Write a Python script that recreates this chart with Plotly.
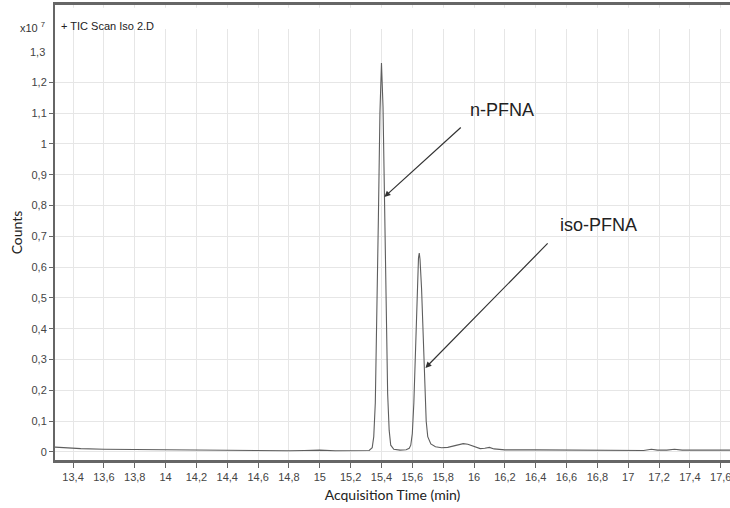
import plotly.graph_objects as go

# Chromatogram (time in min, counts in units of 1e7)
time_min = [13.28, 13.35, 13.45, 13.6, 13.8, 14.0, 14.2, 14.4, 14.6, 14.8, 14.9, 15.0, 15.1, 15.2, 15.28,
            15.32, 15.34, 15.35, 15.36, 15.37, 15.38, 15.39, 15.40, 15.41, 15.42, 15.43, 15.44, 15.45, 15.46,
            15.48, 15.52, 15.56, 15.58, 15.59, 15.60, 15.61, 15.62, 15.63, 15.64, 15.645, 15.65, 15.66,
            15.67, 15.68, 15.69, 15.70, 15.72, 15.75, 15.79, 15.83, 15.87, 15.9, 15.93, 15.96, 16.0,
            16.04, 16.07, 16.1, 16.13, 16.2, 16.4, 16.6, 16.8, 17.0, 17.1, 17.15, 17.19, 17.25, 17.3,
            17.35, 17.5, 17.6, 17.7]
counts_e7 = [0.016, 0.013, 0.011, 0.009, 0.008, 0.007, 0.006, 0.005, 0.004, 0.004, 0.005, 0.006, 0.004, 0.004, 0.004,
             0.005, 0.014, 0.05, 0.16, 0.42, 0.76, 1.10, 1.263, 1.12, 0.78, 0.44, 0.19, 0.07, 0.022,
             0.009, 0.006, 0.007, 0.012, 0.022, 0.06, 0.16, 0.34, 0.53, 0.63, 0.646, 0.625, 0.53,
             0.40, 0.22, 0.10, 0.05, 0.026, 0.017, 0.014, 0.015, 0.02, 0.025, 0.027, 0.025, 0.018,
             0.011, 0.012, 0.015, 0.01, 0.007, 0.007, 0.006, 0.005, 0.005, 0.005, 0.009, 0.006, 0.006, 0.009,
             0.006, 0.005, 0.005, 0.006]

x_ticks = [13.4, 13.6, 13.8, 14.0, 14.2, 14.4, 14.6, 14.8, 15.0, 15.2, 15.4, 15.6, 15.8, 16.0,
           16.2, 16.4, 16.6, 16.8, 17.0, 17.2, 17.4, 17.6]
x_labels = ["13,4", "13,6", "13,8", "14", "14,2", "14,4", "14,6", "14,8", "15", "15,2", "15,4", "15,6",
            "15,8", "16", "16,2", "16,4", "16,6", "16,8", "17", "17,2", "17,4", "17,6"]
y_ticks = [0, 0.1, 0.2, 0.3, 0.4, 0.5, 0.6, 0.7, 0.8, 0.9, 1.0, 1.1, 1.2]
y_labels = ["0", "0,1", "0,2", "0,3", "0,4", "0,5", "0,6", "0,7", "0,8", "0,9", "1", "1,1", "1,2"]

peak_names = ["n-PFNA", "iso-PFNA"]
label_pos = [(16.183, 1.11), (16.805, 0.737)]
arrow_tail = [(15.924, 1.058), (16.487, 0.682)]
arrow_tip = [(15.419, 0.828), (15.685, 0.273)]

fig = go.Figure()
fig.add_trace(go.Scatter(x=time_min, y=counts_e7, mode="lines",
                         line=dict(color="#5e5e5e", width=1.1), showlegend=False, hoverinfo="skip"))

AX_FONT = dict(family="Liberation Sans", size=11, color="#444")
fig.update_xaxes(range=[13.283, 17.66], tickvals=x_ticks, ticktext=x_labels, tickfont=AX_FONT,
                 ticklabeloverflow="allow",
                 showgrid=True, gridcolor="#e6e6e6", gridwidth=1, zeroline=False,
                 showline=True, linecolor="#666", linewidth=2.5, mirror=True,
                 ticks="outside", ticklen=5, tickcolor="#666",
                 title=dict(text="Acquisition Time (min)", font=dict(family="Lato", size=14, color="#222"),
                            standoff=9))
fig.update_yaxes(range=[-0.026, 1.451], tickvals=y_ticks, ticktext=y_labels, tickfont=AX_FONT,
                 showgrid=True, gridcolor="#e6e6e6", gridwidth=1, zeroline=False,
                 showline=True, linecolor="#666", linewidth=2, mirror=False,
                 ticks="outside", ticklen=4, tickcolor="#666",
                 title=dict(text="Counts", font=dict(family="Lato", size=14, color="#222"), standoff=6))

# hide the gridlines in the header band of the plot
fig.add_shape(type="rect", xref="x domain", yref="y domain", x0=0.004, x1=1, y0=0.947, y1=0.994,
              fillcolor="white", line=dict(width=0), layer="above")

anns = []
for name, (lx, ly), (tx, ty), (hx, hy) in zip(peak_names, label_pos, arrow_tail, arrow_tip):
    anns.append(dict(x=lx, y=ly, xref="x", yref="y", text=name, showarrow=False,
                     font=dict(family="Liberation Sans", size=18, color="#222")))
    anns.append(dict(x=hx, y=hy, ax=tx, ay=ty, xref="x", yref="y", axref="x", ayref="y", text="",
                     showarrow=True, arrowhead=2, arrowsize=1, arrowwidth=1.2, arrowcolor="#333"))
anns.append(dict(x=0, y=1.3, xref="paper", yref="y", xanchor="right", xshift=-8, text="1,3",
                 showarrow=False, font=AX_FONT))
anns.append(dict(x=0, y=0.971, xref="paper", yref="paper", xanchor="right", xshift=-8, text="x10 <sup>7</sup>",
                 showarrow=False, font=dict(family="Liberation Sans", size=11, color="#333")))
anns.append(dict(x=0, y=0.971, xref="paper", yref="paper", xanchor="left", xshift=4, text="+ TIC Scan Iso 2.D",
                 showarrow=False, font=dict(family="Liberation Sans", size=11, color="#222")))

fig.update_layout(width=730, height=508, margin=dict(l=55, r=0, t=5, b=48),
                  plot_bgcolor="white", paper_bgcolor="white", annotations=anns)

fig.write_html("out.html")
